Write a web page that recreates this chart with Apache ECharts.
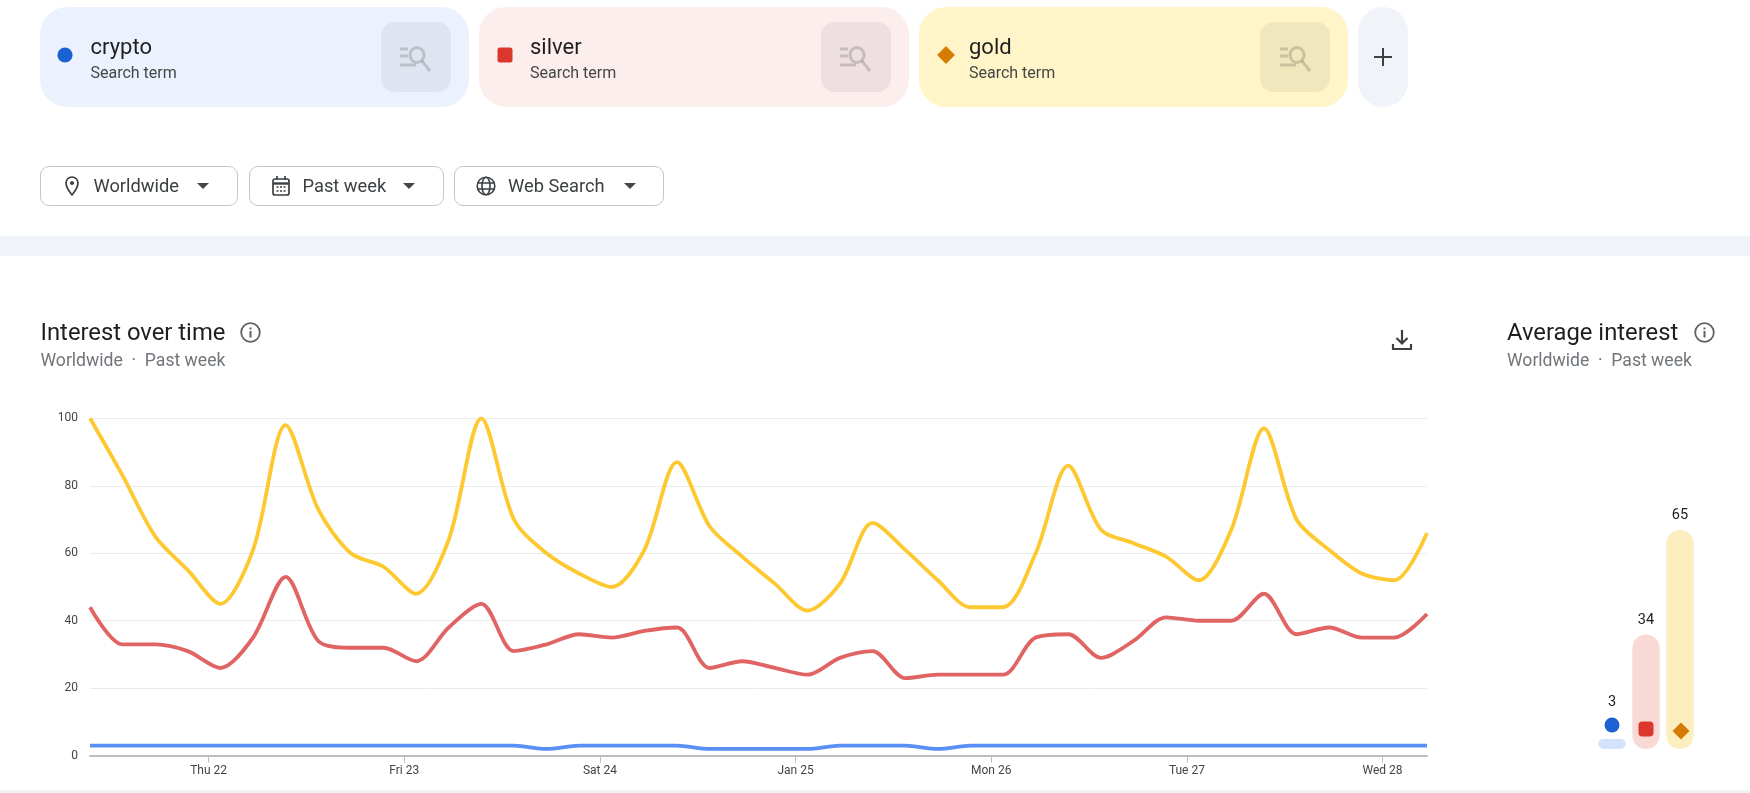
<!DOCTYPE html>
<html>
<head>
<meta charset="utf-8">
<title>Interest over time</title>
<script src="https://cdn.jsdelivr.net/npm/echarts@6/dist/echarts.min.js"></script>
<style>
  html, body { margin: 0; width: 1750px; height: 793px; overflow: hidden; background: #fff; font-family: Roboto, sans-serif; color: #202124; }
  #main { position: absolute; left: 0; top: 0; width: 1750px; height: 793px; }
  .box { position: absolute; box-sizing: border-box; }
  .txt { position: absolute; white-space: nowrap; transform: translateY(-50%); }
  .term { font-size: 22px; color: #1f1f1f; }
  .sub { font-size: 16px; color: #444746; }
  .card { top: 7px; height: 100px; border-radius: 27px; }
  .inner { top: 22px; width: 70px; height: 70px; border-radius: 14px; }
  .btn { top: 166px; height: 40px; border: 1px solid #c4c7c5; border-radius: 9px; background: #fff; }
  .btnt { top: 185px; font-size: 18.3px; color: #3c4043; }
  .caret { position: absolute; top: 183px; width: 0; height: 0; border-left: 6px solid transparent; border-right: 6px solid transparent; border-top: 6px solid #444746; }
  .h { top: 332px; font-size: 23.8px; color: #1f1f1f; }
  .hs { top: 360px; font-size: 17.6px; color: #70757a; }
  svg { position: absolute; overflow: visible; }
</style>
</head>
<body>
<div id="main"></div>

<!-- search term cards -->
<div class="box card" style="left:40px;width:429px;background:#ebf2fe"></div>
<div class="box card" style="left:479px;width:430px;background:#fdeeee"></div>
<div class="box card" style="left:919px;width:429px;background:#fff5c9"></div>
<div class="box card" style="left:1358px;width:50px;background:#f0f4f9"></div>
<div class="box inner" style="left:381px;background:#dfe5f0"></div>
<div class="box inner" style="left:821px;background:#eee0e0"></div>
<div class="box inner" style="left:1260px;background:#f0e7bd"></div>
<svg style="left:399px;top:47px" width="36" height="26"><use href="#find"/></svg>
<svg style="left:839px;top:47px" width="36" height="26"><use href="#find"/></svg>
<svg style="left:1279px;top:47px" width="36" height="26"><use href="#find"/></svg>
<svg width="0" height="0"><defs><g id="find" fill="none" stroke="#000" stroke-opacity="0.16" stroke-width="3">
  <path d="M1 2h8M1 9h8M1 18h16"/><ellipse cx="18" cy="8" rx="7" ry="7.500"/><path d="M23 14l8 10"/></g></defs></svg>

<svg style="left:57px;top:47px" width="16" height="16"><circle cx="8" cy="8" r="7.6" fill="#1a62d2"/></svg>
<svg style="left:497px;top:47px" width="16" height="16"><rect x="0.5" y="0.5" width="15" height="15" rx="2.5" fill="#dc372c"/></svg>
<svg style="left:937px;top:46px" width="18" height="18"><path d="M9 .6L17.4 9 9 17.4 .6 9z" fill="#d47b00" stroke="#d47b00" stroke-linejoin="round"/></svg>

<div class="txt term" style="left:90.5px;top:46px">crypto</div>
<div class="txt sub" style="left:90.5px;top:72px">Search term</div>
<div class="txt term" style="left:530px;top:46px">silver</div>
<div class="txt sub" style="left:530px;top:72px">Search term</div>
<div class="txt term" style="left:969px;top:46px">gold</div>
<div class="txt sub" style="left:969px;top:72px">Search term</div>
<svg style="left:1373px;top:47px" width="20" height="20"><path d="M10 1v18M1 10h18" stroke="#3c4043" stroke-width="2" fill="none"/></svg>

<!-- filters -->
<div class="box btn" style="left:40px;width:198px"></div>
<div class="box btn" style="left:249px;width:195px"></div>
<div class="box btn" style="left:454px;width:210px"></div>
<svg style="left:65px;top:176px" width="14" height="20"><path d="M7 1a6 6 0 0 0-6 6c0 4.5 6 12 6 12s6-7.500 6-12a6 6 0 0 0-6-6z" fill="none" stroke="#3c4043" stroke-width="1.7"/><circle cx="7" cy="7" r="2" fill="#3c4043"/></svg>
<svg style="left:272px;top:176px" width="18" height="20"><rect x="1" y="3" width="16" height="16" rx="2" fill="none" stroke="#3c4043" stroke-width="1.7"/><path d="M1 7.500h16" stroke="#3c4043" stroke-width="2.4"/><path d="M5 0v4M13 0v4" stroke="#3c4043" stroke-width="1.7"/><path d="M4.500 11h9M4.500 15h9" stroke="#3c4043" stroke-width="1.400" stroke-dasharray="2 1.500"/></svg>
<svg style="left:476px;top:176px" width="20" height="20"><g fill="none" stroke="#3c4043" stroke-width="1.600"><circle cx="10" cy="10" r="8.800"/><ellipse cx="10" cy="10" rx="4" ry="8.800"/><path d="M1.500 7h17M1.500 13h17"/></g></svg>
<div class="txt btnt" style="left:93.5px">Worldwide</div>
<div class="txt btnt" style="left:302.5px">Past week</div>
<div class="txt btnt" style="left:508px">Web Search</div>
<div class="caret" style="left:197px"></div>
<div class="caret" style="left:403px"></div>
<div class="caret" style="left:624px"></div>

<!-- section strips -->
<div class="box" style="left:0;top:236px;width:1750px;height:20px;background:#f0f4f9"></div>
<div class="box" style="left:0;top:790px;width:1750px;height:3px;background:#f0f4f9"></div>

<!-- headings -->
<div class="txt h" style="left:40.5px">Interest over time</div>
<div class="txt hs" style="left:40.5px">Worldwide &nbsp;·&nbsp; Past week</div>
<div class="txt h" style="left:1507px">Average interest</div>
<div class="txt hs" style="left:1507px">Worldwide &nbsp;·&nbsp; Past week</div>
<svg style="left:240px;top:322px" width="21" height="21"><use href="#info"/></svg>
<svg style="left:1694px;top:322px" width="21" height="21"><use href="#info"/></svg>
<svg width="0" height="0"><defs><g id="info" fill="none" stroke="#5f6368" stroke-width="1.800"><circle cx="10.500" cy="10.500" r="9.300"/><path d="M10.500 9v6.500" stroke-width="2"/><path d="M10.500 5.500v2" stroke-width="2"/></g></defs></svg>
<svg style="left:1392px;top:330px" width="20" height="20"><path d="M10 0v13M4.500 8l5.500 5.500L15.500 8M1 14v5h18v-5" fill="none" stroke="#3c4043" stroke-width="2.200"/></svg>

<script>
const terms = ["crypto", "silver", "gold"];

// readings every 4 hours, left to right
const crypto = [3, 3, 3, 3, 3, 3, 3, 3, 3, 3, 3, 3, 3, 3, 2, 3, 3, 3, 3, 2, 2, 2, 2, 3, 3, 3, 2, 3, 3, 3, 3, 3, 3, 3, 3, 3, 3, 3, 3, 3, 3, 3];
const silver = [44, 33, 33, 31, 26, 35, 53, 34, 32, 32, 28, 38, 45, 31, 33, 36, 35, 37, 38, 26, 28, 26, 24, 29, 31, 23, 24, 24, 24, 35, 36, 29, 34, 41, 40, 40, 48, 36, 38, 35, 35, 42];
const gold = [100, 83, 65, 55, 45, 61, 98, 73, 60, 56, 48, 64, 100, 70, 60, 54, 50, 61, 87, 68, 59, 51, 43, 51, 69, 61, 52, 44, 44, 60, 86, 67, 63, 59, 52, 67, 97, 70, 61, 54, 52, 66];

const averages = [3, 34, 65];

const dayLabels = ["Thu 22", "Fri 23", "Sat 24", "Jan 25", "Mon 26", "Tue 27", "Wed 28"];
// hours after midnight on Thu 22
const dayTicks = [0, 24, 48, 72, 96, 120, 144];

const firstSample = -14.55;
const step = 4;
const withTime = (values) => values.map((v, i) => [firstSample + i * step, v]);

const lineColors = ["#5a8ff5", "#e06464", "#fdc830"];
const barColors = ["#d3e3fc", "#f9d9d6", "#fdeebf"];
const markerColors = ["#1a62d2", "#dc372c", "#d47b00"];
const markerShapes = ["circle", "roundRect", "diamond"];
const labelGap = [29, 7, 7];
const markerLift = [24, 20, 18];
const labelFont = "Roboto, sans-serif";

const myChart = echarts.init(document.getElementById("main"));

function lineSeries(name, values, color) {
  return {
    name: name,
    type: "line",
    xAxisIndex: 0,
    yAxisIndex: 0,
    data: withTime(values),
    showSymbol: false,
    smooth: 0.3,
    lineStyle: { color: color, width: 3.8 },
    animation: false,
  };
}

myChart.setOption({
  animation: false,
  grid: [
    { left: 90, right: 323, top: 418.3, bottom: 37.3 },
    { left: 1595, width: 102, top: 412, bottom: 44 },
  ],
  xAxis: [
    {
      type: "value",
      gridIndex: 0,
      min: firstSample,
      max: firstSample + 41 * step,
      splitLine: { show: false },
      axisLine: { lineStyle: { color: "#bdbdbd", width: 2 } },
      axisTick: { customValues: dayTicks, length: 7, lineStyle: { color: "#bdbdbd" } },
      axisLabel: {
        customValues: dayTicks,
        formatter: (v) => dayLabels[dayTicks.indexOf(v)],
        color: "#444",
        fontSize: 12,
        fontFamily: labelFont,
        margin: 9,
      },
    },
    {
      type: "category",
      gridIndex: 1,
      data: terms,
      show: false,
    },
  ],
  yAxis: [
    {
      type: "value",
      gridIndex: 0,
      min: 0,
      max: 100,
      interval: 20,
      axisLine: { show: false },
      axisTick: { show: false },
      splitLine: { lineStyle: { color: "#ebebeb", width: 1 } },
      axisLabel: { color: "#444", fontSize: 12, fontFamily: labelFont, margin: 12, padding: [6, 0, 0, 0] },
    },
    { type: "value", gridIndex: 1, min: 0, max: 100, show: false },
  ],
  series: [
    lineSeries(terms[0], crypto, lineColors[0]),
    lineSeries(terms[1], silver, lineColors[1]),
    lineSeries(terms[2], gold, lineColors[2]),
    {
      type: "bar",
      xAxisIndex: 1,
      yAxisIndex: 1,
      barWidth: 27.3,
      data: averages.map((v, i) => ({
        value: v,
        itemStyle: { color: barColors[i], borderRadius: v < 5 ? 5 : 13.6 },
        label: { distance: labelGap[i] },
      })),
      label: {
        show: true,
        position: "top",
        color: "#202124",
        fontSize: 14.5,
        fontFamily: labelFont,
      },
    },
    {
      type: "scatter",
      xAxisIndex: 1,
      yAxisIndex: 1,
      z: 5,
      data: terms.map((t, i) => ({
        value: [t, 0],
        symbol: markerShapes[i],
        symbolSize: i === 2 ? 17 : 15,
        symbolOffset: [i === 2 ? 1 : 0, -markerLift[i]],
        itemStyle: { color: markerColors[i], opacity: 1 },
      })),
    },
  ],
});
</script>
</body>
</html>
